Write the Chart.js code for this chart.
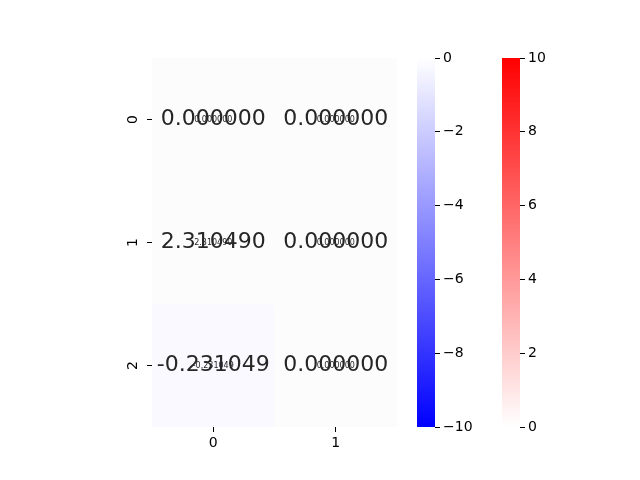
<!DOCTYPE html>
<html lang="en">
<head>
<meta charset="utf-8">
<title>Heatmap with two colorbars</title>
<script src="https://cdn.jsdelivr.net/npm/chart.js"></script>
<style>
  body { margin: 0; background: #fff; }
  #wrap { position: relative; width: 640px; height: 480px; }
  #wrap canvas { position: absolute; left: 0; top: 0; }
</style>
</head>
<body>
<div id="wrap">
  <canvas id="heat" width="640" height="480"></canvas>
  <canvas id="cbBlue" width="640" height="480"></canvas>
  <canvas id="cbRed" width="640" height="480"></canvas>
</div>
<script>
// data
const rowLabels = ['0', '1', '2'];
const colLabels = ['0', '1'];
const col0Values = [0, 2.31049, -0.231049];
const col1Values = [0, 0, 0];
const blueRange = [-10, 0];
const redRange = [0, 10];

Chart.defaults.font.family = 'DejaVu Sans';
Chart.defaults.font.size = 14;
Chart.defaults.color = '#000';
Chart.defaults.animation = false;
Chart.defaults.plugins.legend.display = false;
Chart.defaults.plugins.tooltip.enabled = false;

function cellColor(v) {
    if (v < 0) {
        var t = Math.min(1, -v / 10);
        var c = Math.round(255 * (1 - t));
        return 'rgb(' + c + ',' + c + ',255)';
    }
    return '#fcfcfd';
}
function fmt(v) { return v.toFixed(6); }
function minus(v) { return v < 0 ? '\u2212' + (-v) : String(v); }

const cols = [col0Values, col1Values];
const datasets = rowLabels.map(function (r, i) {
    return {
        data: colLabels.map(function () { return [i, i + 1]; }),
        backgroundColor: cols.map(function (c) { return cellColor(c[i]); }),
        borderWidth: 0,
        grouped: false,
        barPercentage: 1,
        categoryPercentage: 1
    };
});

const annotate = {
    id: 'annotate',
    afterDatasetsDraw(chart) {
        const ctx = chart.ctx, x = chart.scales.x, y = chart.scales.y;
        ctx.save();
        ctx.textAlign = 'center';
        ctx.textBaseline = 'middle';
        ctx.fillStyle = '#262626';
        cols.forEach(function (c, j) {
            c.forEach(function (v, i) {
                const px = x.getPixelForValue(j), py = y.getPixelForValue(i + 0.5);
                ctx.font = '22px "DejaVu Sans"';
                ctx.fillText(fmt(v), px, py);
                ctx.font = '8px "DejaVu Sans"';
                ctx.fillText(fmt(v), px, py);
            });
        });
        // row labels, rotated like matplotlib's
        ctx.fillStyle = '#000';
        ctx.font = '14px "DejaVu Sans"';
        ctx.textBaseline = 'alphabetic';
        rowLabels.forEach(function (l, i) {
            ctx.save();
            ctx.translate(chart.chartArea.left - 15, y.getPixelForValue(i + 0.5));
            ctx.rotate(-Math.PI / 2);
            ctx.fillText(l, 0, 0);
            ctx.restore();
        });
        ctx.restore();
    }
};

new Chart(document.getElementById('heat'), {
    type: 'bar',
    data: { labels: colLabels, datasets: datasets },
    plugins: [annotate],
    options: {
        responsive: false,
        devicePixelRatio: 1,
        layout: { padding: { left: 112, right: 243, top: 58, bottom: 23 } },
        scales: {
            x: {
                grid: { drawOnChartArea: false, offset: false, tickLength: 5, color: '#000' },
                border: { display: false },
                ticks: { padding: 3 },
                afterFit(s) { s.height = 30; }
            },
            y: {
                type: 'linear', reverse: true, min: 0, max: 3,
                grid: { drawOnChartArea: false, tickLength: 5, color: '#000' },
                border: { display: false },
                afterBuildTicks(s) { s.ticks = rowLabels.map(function (l, i) { return { value: i + 0.5 }; }); },
                ticks: { callback: function () { return ''; } },
                afterFit(s) { s.width = 40; }
            }
        }
    }
});

function colorbar(id, range, top, bottom, left) {
    return new Chart(document.getElementById(id), {
        type: 'bar',
        data: {
            labels: [''],
            datasets: [{
                data: [range],
                borderWidth: 0,
                barPercentage: 1,
                categoryPercentage: 1,
                backgroundColor: function (c) {
                    const a = c.chart.chartArea;
                    if (!a) return top;
                    const g = c.chart.ctx.createLinearGradient(0, a.top, 0, a.bottom);
                    g.addColorStop(0, top);
                    g.addColorStop(1, bottom);
                    return g;
                }
            }]
        },
        options: {
            responsive: false,
            devicePixelRatio: 1,
            layout: { padding: { left: left, right: 640 - left - 18 - 40, top: 58, bottom: 53 } },
            scales: {
                x: { display: false },
                y: {
                    position: 'right', min: range[0], max: range[1],
                    grid: { drawOnChartArea: false, tickLength: 5, color: '#000' },
                    border: { display: false },
                    ticks: { stepSize: 2, padding: 3, callback: minus },
                    afterFit(s) { s.width = 40; }
                }
            }
        }
    });
}
colorbar('cbBlue', blueRange, '#ffffff', '#0000ff', 417);
colorbar('cbRed', redRange, '#ff0000', '#ffffff', 502);
</script>
</body>
</html>
